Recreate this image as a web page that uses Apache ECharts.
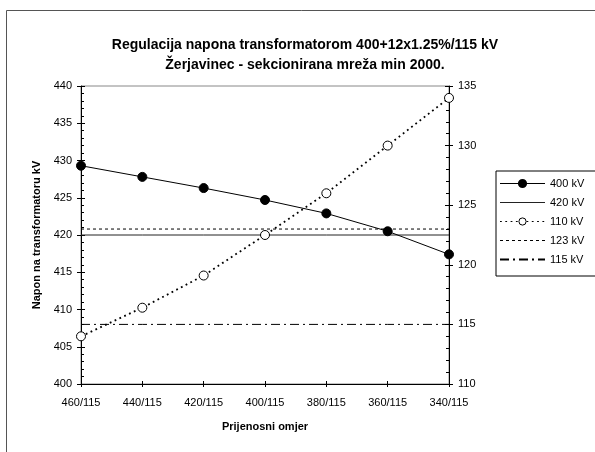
<!DOCTYPE html>
<html>
<head>
<meta charset="utf-8">
<script src="https://cdn.jsdelivr.net/npm/echarts@6/dist/echarts.min.js"></script>
<style>
  html, body { margin: 0; padding: 0; background: #fff; }
  #chart { width: 595px; height: 452px; }
</style>
</head>
<body>
<div id="chart"></div>
<script>
// prijenosni omjeri (x os)
const ratios = ['460/115', '440/115', '420/115', '400/115', '380/115', '360/115', '340/115'];
// napon na 400 kV strani (lijeva os)
const napon400 = [429.3, 427.8, 426.3, 424.7, 422.9, 420.5, 417.4];
// napon na 110 kV strani (desna os)
const napon110 = [114.0, 116.4, 119.1, 122.5, 126.0, 130.0, 134.0];
// granice
const granica420 = 420;
const granica123 = 123;
const granica115 = 115;

const font = 'Liberation Sans, Arial, sans-serif';
const chart = echarts.init(document.getElementById('chart'));

const flat = v => ratios.map(() => v);

const yBase = {
  type: 'value',
  axisLine: { show: true, lineStyle: { color: '#000', width: 1 } },
  splitLine: { show: false },
  axisLabel: { color: '#000', fontFamily: font, fontSize: 11, margin: 9 },
  axisTick: { show: true, inside: true, length: 4, lineStyle: { color: '#000' } },
  minorTick: { show: true, splitNumber: 5, length: 3, lineStyle: { color: '#000' } }
};
// dodatne osi samo za vanjski dio crtica
const yOuter = {
  type: 'value',
  axisLine: { show: false },
  splitLine: { show: false },
  axisLabel: { show: false },
  axisTick: { show: true, inside: false, length: 4, lineStyle: { color: '#000' } }
};

// legenda bez markera za granicne linije
const noMark = { opacity: 0 };

chart.setOption({
  animation: false,
  backgroundColor: '#fff',
  graphic: [
    {
      type: 'rect',
      shape: { x: 6.5, y: 10.5, width: 700, height: 600 },
      style: { fill: 'none', stroke: '#555', lineWidth: 1 }
    },
    {
      type: 'text',
      style: {
        text: 'Regulacija napona transformatorom 400+12x1.25%/115 kV',
        x: 305, y: 45, textAlign: 'center', textVerticalAlign: 'middle',
        font: 'bold 14px ' + font, fill: '#000'
      }
    },
    {
      type: 'text',
      style: {
        text: 'Žerjavinec - sekcionirana mreža min 2000.',
        x: 305, y: 65, textAlign: 'center', textVerticalAlign: 'middle',
        font: 'bold 14px ' + font, fill: '#000'
      }
    }
  ],
  grid: {
    left: 81, right: 146, top: 86, bottom: 68,
    show: true, borderColor: '#888', borderWidth: 1, backgroundColor: '#fff'
  },
  legend: {
    orient: 'vertical',
    left: 496, top: 171,
    padding: [7, 40, 11, 3],
    itemWidth: 45, itemHeight: 9, itemGap: 8,
    borderColor: '#000', borderWidth: 1,
    textStyle: { color: '#000', fontFamily: font, fontSize: 11 },
    data: [
      { name: '400 kV', lineStyle: { width: 1 } },
      { name: '420 kV', lineStyle: { width: 1 }, itemStyle: noMark },
      { name: '110 kV', lineStyle: { width: 1.2 }, itemStyle: { borderWidth: 1 } },
      { name: '123 kV', lineStyle: { width: 1 }, itemStyle: noMark },
      { name: '115 kV', lineStyle: { width: 2 }, itemStyle: noMark }
    ]
  },
  xAxis: [
    {
      type: 'category', data: ratios, boundaryGap: false,
      name: 'Prijenosni omjer', nameLocation: 'middle', nameGap: 37,
      nameTextStyle: { color: '#000', fontFamily: font, fontSize: 11, fontWeight: 'bold' },
      axisLine: { lineStyle: { color: '#000' } },
      axisLabel: { color: '#000', fontFamily: font, fontSize: 11, margin: 13, interval: 0 },
      axisTick: { inside: true, length: 3, lineStyle: { color: '#000' } }
    },
    {
      type: 'category', data: ratios, boundaryGap: false, position: 'bottom',
      axisLine: { show: false }, axisLabel: { show: false },
      axisTick: { inside: false, length: 3, lineStyle: { color: '#000' } }
    }
  ],
  yAxis: [
    Object.assign({}, yBase, {
      position: 'left', min: 400, max: 440, interval: 5,
      name: 'Napon na transformatoru kV', nameLocation: 'middle', nameGap: 38,
      nameTextStyle: { color: '#000', fontFamily: font, fontSize: 11, fontWeight: 'bold' }
    }),
    Object.assign({}, yBase, { position: 'right', min: 110, max: 135, interval: 5 }),
    Object.assign({}, yOuter, { position: 'left', min: 400, max: 440, interval: 5 }),
    Object.assign({}, yOuter, { position: 'right', min: 110, max: 135, interval: 5 })
  ],
  series: [
    {
      name: '420 kV', type: 'line', yAxisIndex: 0, data: flat(granica420),
      symbol: 'none', lineStyle: { color: '#222', width: 1 }, itemStyle: { color: '#222' }
    },
    {
      name: '123 kV', type: 'line', yAxisIndex: 1, data: flat(granica123),
      symbol: 'none', lineStyle: { color: '#000', width: 1, type: [3, 3] }, itemStyle: { color: '#000' }
    },
    {
      name: '115 kV', type: 'line', yAxisIndex: 1, data: flat(granica115),
      symbol: 'none', lineStyle: { color: '#000', width: 1, type: [9, 4, 2, 4] }, itemStyle: { color: '#000' }
    },
    {
      name: '110 kV', type: 'line', yAxisIndex: 1, data: napon110,
      symbol: 'circle', symbolSize: 9,
      lineStyle: { color: '#000', width: 1.8, type: [1.8, 3.5] },
      itemStyle: { color: '#fff', borderColor: '#000', borderWidth: 1 }
    },
    {
      name: '400 kV', type: 'line', yAxisIndex: 0, data: napon400,
      symbol: 'circle', symbolSize: 9,
      lineStyle: { color: '#000', width: 1 },
      itemStyle: { color: '#000', borderColor: '#000', borderWidth: 1 }
    }
  ]
});
</script>
</body>
</html>
